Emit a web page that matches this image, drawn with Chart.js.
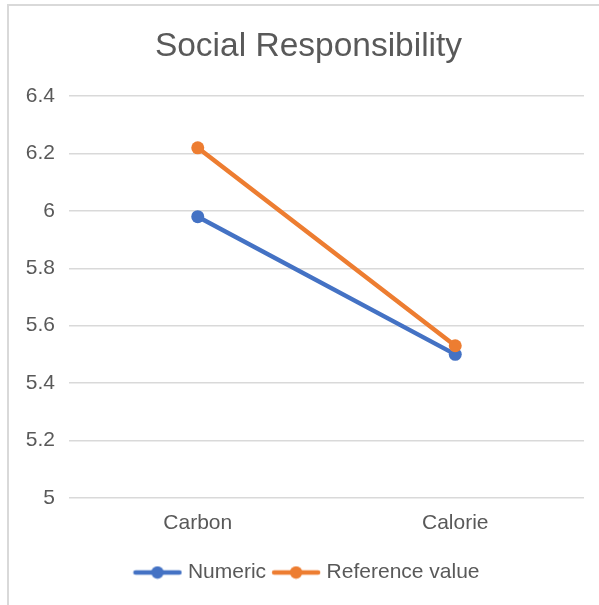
<!DOCTYPE html>
<html>
<head>
<meta charset="utf-8">
<script src="https://cdn.jsdelivr.net/npm/chart.js@4"></script>
<style>
  html, body { margin: 0; padding: 0; background: #ffffff; overflow: hidden; }
  #wrap { position: relative; width: 599px; height: 605px; }
  #frame {
    position: absolute; left: 7px; top: 4px; width: 620px; height: 620px;
    border-top: 2px solid #d9d9d9; border-left: 2px solid #d9d9d9;
  }
  #c { position: absolute; left: 0; top: 0; }
</style>
</head>
<body>
<div id="wrap">
  <div id="frame"></div>
  <canvas id="c" width="599" height="605"></canvas>
</div>
<script>
const categories = ["Carbon", "Calorie"];
const numericValues = [5.98, 5.50];
const referenceValues = [6.22, 5.53];
const yTicks = [5, 5.2, 5.4, 5.6, 5.8, 6, 6.2, 6.4];

const BLUE = "#4472C4";
const ORANGE = "#ED7D31";
const TEXT = "#595959";
const GRID = "#d9d9d9";
const FONT = "'Liberation Sans', Arial, Helvetica, sans-serif";

// Legend marker: a short line with a dot in the middle
function lineMarker(color) {
  const cv = document.createElement("canvas");
  cv.width = 50; cv.height = 14;
  const g = cv.getContext("2d");
  g.strokeStyle = color; g.lineWidth = 4.5; g.lineCap = "round";
  g.beginPath(); g.moveTo(3, 7); g.lineTo(47, 7); g.stroke();
  g.fillStyle = color;
  g.beginPath(); g.arc(25, 7, 6.2, 0, Math.PI * 2); g.fill();
  return cv;
}

const datasets = [
  { label: "Numeric", data: numericValues, color: BLUE, order: 1 },
  { label: "Reference value", data: referenceValues, color: ORANGE, order: 0 }
].map(d => ({
  label: d.label,
  data: d.data,
  order: d.order,
  borderColor: d.color,
  backgroundColor: d.color,
  pointBackgroundColor: d.color,
  pointBorderColor: d.color,
  borderWidth: 4.5,
  pointRadius: 6.5,
  pointBorderWidth: 0,
  borderCapStyle: "round",
  tension: 0
}));

new Chart(document.getElementById("c"), {
  type: "line",
  data: { labels: categories, datasets },
  options: {
    responsive: false,
    animation: false,
    events: [],
    layout: { padding: { left: 24, right: 6, top: 27, bottom: 12 } },
    plugins: {
      title: {
        display: true,
        text: "Social Responsibility",
        color: TEXT,
        font: { family: FONT, size: 33.5, weight: "normal" },
        padding: { top: 0, bottom: 29 }
      },
      legend: {
        position: "bottom",
        labels: {
          color: TEXT,
          font: { family: FONT, size: 21 },
          usePointStyle: true,
          pointStyleWidth: 40,
          padding: 10,
          generateLabels: (chart) => chart.data.datasets.map((ds, i) => ({
            text: ds.label,
            datasetIndex: i,
            pointStyle: lineMarker(ds.borderColor),
            fillStyle: ds.borderColor,
            strokeStyle: ds.borderColor,
            fontColor: TEXT,
            lineWidth: 0,
            hidden: false
          }))
        }
      },
      tooltip: { enabled: false }
    },
    scales: {
      x: {
        offset: true,
        grid: { display: false, drawTicks: false },
        border: { display: false },
        ticks: { color: TEXT, font: { family: FONT, size: 21 }, padding: 13 },
        afterFit: (axis) => { axis.height += 3; }
      },
      y: {
        min: 5,
        max: 6.4,
        afterBuildTicks: (axis) => { axis.ticks = yTicks.map(v => ({ value: v })); },
        afterFit: (axis) => { axis.width = 45; },
        grid: { color: GRID, lineWidth: 1.5, drawTicks: false },
        border: { display: false },
        ticks: {
          color: TEXT,
          font: { family: FONT, size: 21 },
          padding: 14,
          callback: (v) => String(Number(v.toFixed(1)))
        }
      },
      // empty right-hand margin so the plot ends a little before the frame edge
      yRight: {
        type: "linear",
        position: "right",
        min: 5,
        max: 6.4,
        grid: { display: false, drawTicks: false },
        border: { display: false },
        ticks: { display: false },
        afterFit: (axis) => { axis.width = 9; }
      }
    }
  }
});
</script>
</body>
</html>
